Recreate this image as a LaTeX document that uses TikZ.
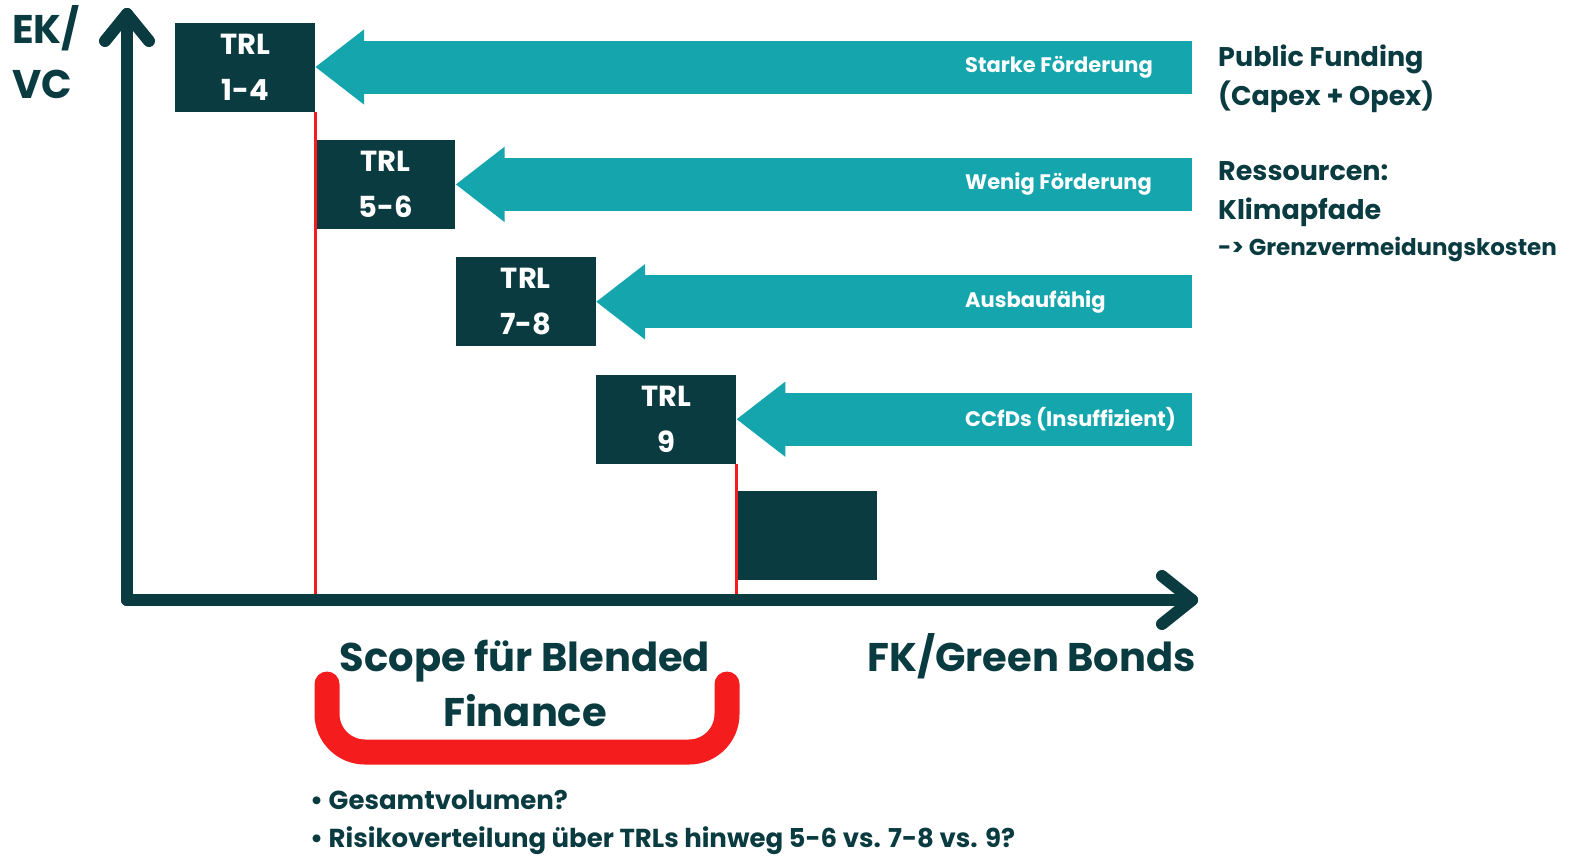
\documentclass[tikz,border=0pt]{standalone}
\usepackage{fontspec}
\setmainfont{Poppins}
\usetikzlibrary{arrows.meta,positioning}
\definecolor{darkteal}{HTML}{0A3B40}
\definecolor{lightteal}{HTML}{15A5AD}
\definecolor{scopered}{HTML}{F41C1C}

\begin{document}
\begin{tikzpicture}[x=1pt,y=-1pt,
  trl node/.style={rectangle,fill=darkteal,text=white,minimum width=140pt,minimum height=89pt,
    inner sep=0pt,align=center,font=\fontsize{29}{46}\selectfont\bfseries},
  flow arrow/.style={draw=lightteal,line width=53pt,-{Triangle[length=49pt,width=72pt]}},
  flow label/.style={anchor=west,text=white,inner sep=0pt,font=\fontsize{21}{24}\selectfont\bfseries},
  axis line/.style={draw=darkteal,line width=12pt,line cap=round,line join=round},
  side text/.style={anchor=base west,text=darkteal,align=left,inner sep=0pt,font=\fontsize{27}{39}\selectfont\bfseries},
  big text/.style={text=darkteal,align=center,inner sep=0pt,font=\fontsize{40}{55}\selectfont\bfseries},
  red line/.style={draw=scopered,line width=3pt}]

  \useasboundingbox (0,0) rectangle (1575,855);

  \coordinate (o) at (127,600);
  \coordinate (ytop) at (127,14);
  \coordinate (xend) at (1192,600);
  \coordinate (lx) at (965,0);

  % TRL steps
  \node[trl node] (1) at (245,67) {TRL\\1-4};
  \node[trl node] (2) [below right=28pt and 0pt of 1] {TRL\\5-6};
  \node[trl node] (3) [below right=28pt and 0pt of 2] {TRL\\7-8};
  \node[trl node] (4) [below right=28pt and 0pt of 3] {TRL\\9};
  \node[trl node] (5) [below right=27pt and 0pt of 4] {};

  % scope limits
  \draw[red line] (1.south east) -- (1.south east |- o);
  \draw[red line] (4.south east) -- (4.south east |- o);

  % axes
  \draw[axis line] (o) -- (ytop);
  \draw[axis line] ([xshift=-22pt,yshift=-27pt]ytop) -- (ytop) -- ([xshift=22pt,yshift=-27pt]ytop);
  \draw[axis line] (o) -- (xend);
  \draw[axis line] ([xshift=-30pt,yshift=24pt]xend) -- (xend) -- ([xshift=-30pt,yshift=-24pt]xend);

  % funding arrows
  \coordinate (r1) at (1 -| xend);
  \coordinate (r2) at (2 -| xend);
  \coordinate (r3) at (3 -| xend);
  \coordinate (r4) at (4 -| xend);
  \draw[flow arrow] (r1) -- (1);
  \draw[flow arrow] (r2) -- (2);
  \draw[flow arrow] (r3) -- (3);
  \draw[flow arrow] (r4) -- (4);
  \node[flow label] (s1) at (1 -| lx) {Starke Förderung};
  \node[flow label] (s2) at (2 -| lx) {Wenig Förderung};
  \node[flow label] (s3) at (3 -| lx) {Ausbaufähig};
  \node[flow label] (s4) at (4 -| lx) {CCfDs (Insuffizient)};

  % texts
  \node[big text,align=left,anchor=base west] (ek) at (12,98) {EK/\\VC};
  \node[side text] (pf) at (1218,105) {Public Funding\\(Capex + Opex)};
  \node[side text] (rs) at (1218,219) {Ressourcen:\\Klimapfade};
  \node[side text,font=\fontsize{23}{24}\selectfont\bfseries] (gk) at (1218,255) {-> Grenzvermeidungskosten};
  \node[big text,anchor=base east] (fk) at (1196,671) {FK/Green Bonds};
  \node[big text,anchor=base] (sc) at (525,726) {Scope für Blended\\Finance};

  % bracket
  \draw[draw=scopered,line width=25pt,line cap=round,rounded corners=38pt]
    (327,684) -- (327,752) -- (727,752) -- (727,684);

  \node[side text,font=\fontsize{26}{30}\selectfont\bfseries] (b1) at (310,809) {\textbullet\ Gesamtvolumen?};
  \node[side text,font=\fontsize{26}{30}\selectfont\bfseries] (b2) at (310,847) {\textbullet\ Risikoverteilung über TRLs hinweg 5-6 vs. 7-8 vs. 9?};
\end{tikzpicture}
\end{document}
